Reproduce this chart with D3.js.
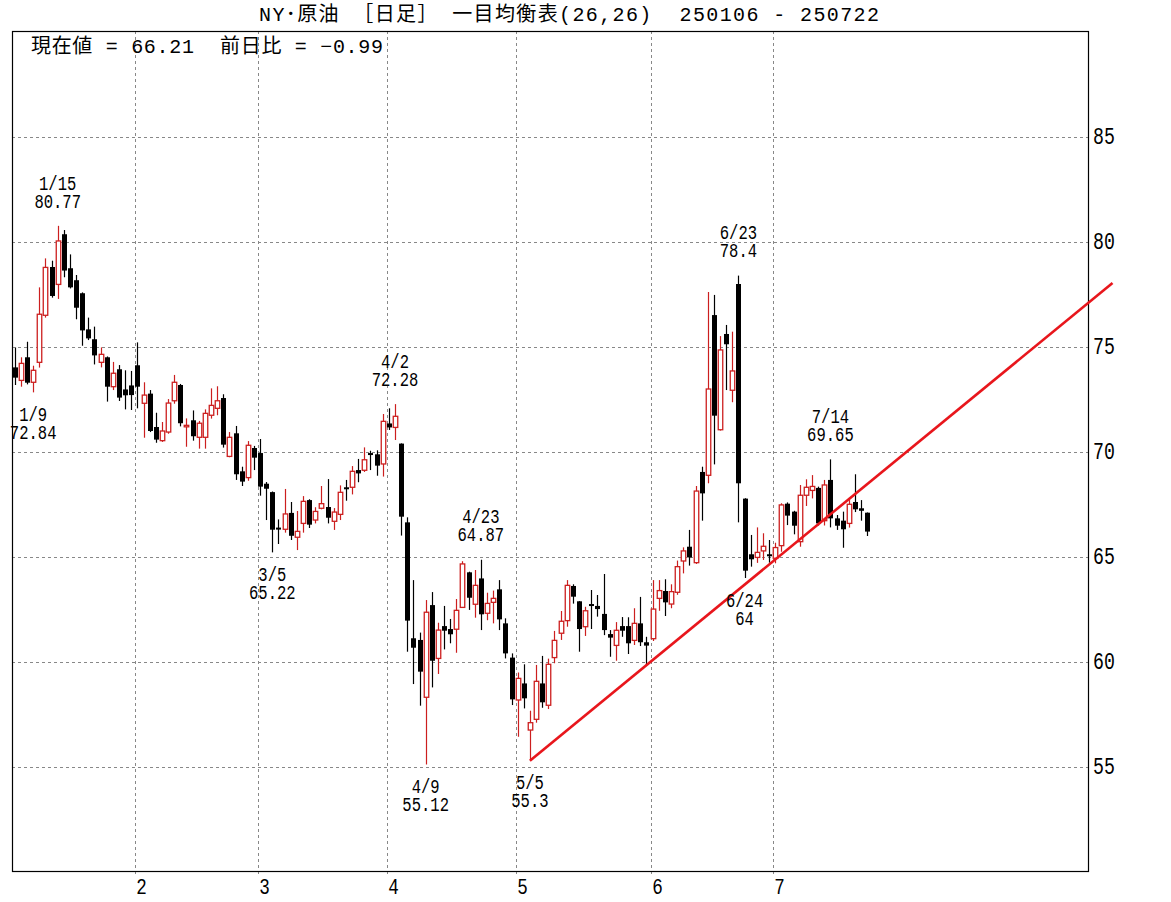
<!DOCTYPE html>
<html><head><meta charset="utf-8">
<script src="https://cdn.jsdelivr.net/npm/d3@7"></script>
<style>
body{margin:0;background:#fff}
text{font-family:'Liberation Mono','Noto Sans CJK JP',monospace;white-space:pre;fill:#000}
</style>
</head><body>
<svg id="c" width="1171" height="902"></svg>
<script>
const titleText = "NY･原油 ［日足］ 一目均衡表(26,26)  250106 - 250722";
const dates = [
"1/6","1/7","1/8","1/9","1/10","1/13","1/14","1/15","1/16","1/17","1/20","1/21","1/22","1/23","1/24","1/27","1/28","1/29","1/30","1/31",
"2/3","2/4","2/5","2/6","2/7","2/10","2/11","2/12","2/13","2/14","2/17","2/18","2/19","2/20","2/21","2/24","2/25","2/26","2/27","2/28",
"3/3","3/4","3/5","3/6","3/7","3/10","3/11","3/12","3/13","3/14","3/17","3/18","3/19","3/20","3/21","3/24","3/25","3/26","3/27","3/28","3/31",
"4/1","4/2","4/3","4/4","4/7","4/8","4/9","4/10","4/11","4/14","4/15","4/16","4/17","4/21","4/22","4/23","4/24","4/25","4/28","4/29","4/30",
"5/1","5/2","5/5","5/6","5/7","5/8","5/9","5/12","5/13","5/14","5/15","5/16","5/19","5/20","5/21","5/22","5/23","5/26","5/27","5/28","5/29","5/30",
"6/2","6/3","6/4","6/5","6/6","6/9","6/10","6/11","6/12","6/13","6/16","6/17","6/18","6/20","6/23","6/24","6/25","6/26","6/27","6/30",
"7/1","7/2","7/3","7/4","7/7","7/8","7/9","7/10","7/11","7/14","7/15","7/16","7/17","7/18","7/21","7/22"];
const opens = [
74.03,73.41,74.51,73.32,74.27,76.51,78.81,77.98,80.37,78.75,78.18,77.56,75.84,75.37,74.27,74.51,73.11,73.94,72.98,73.17,
74.13,72.32,72.78,71.19,70.54,70.95,72.44,73.19,71.21,71.51,70.70,70.70,71.75,72.08,72.57,69.79,70.89,69.08,68.78,70.19,
69.95,68.49,68.09,66.40,66.32,67.10,65.94,66.60,67.71,66.76,67.32,67.38,66.70,67.03,68.32,68.32,69.14,69.13,69.95,69.89,69.43,
71.36,71.17,70.40,66.65,61.13,61.05,58.32,62.71,60.17,61.71,61.57,61.56,62.60,64.27,62.75,63.98,62.32,62.84,63.46,61.84,60.21,
58.19,58.98,56.76,57.27,58.98,57.94,60.21,61.37,61.97,63.62,62.89,61.68,62.76,62.67,62.29,61.33,60.79,61.71,61.71,61.03,61.84,60.94,
61.11,63.03,63.38,62.76,63.32,64.81,65.49,64.73,69.05,68.89,76.52,71.06,75.62,72.94,78.00,67.78,65.13,64.98,65.29,65.13,
64.94,65.54,67.54,67.16,65.73,67.94,68.17,68.29,66.73,68.67,66.84,66.73,66.60,67.62,67.32,67.11];
const highs = [
74.98,74.51,75.25,74.11,77.84,79.22,79.11,80.77,80.57,79.41,78.43,77.60,76.40,75.97,74.98,74.55,74.29,74.14,73.89,73.86,
75.22,73.32,72.95,71.87,71.43,72.52,73.67,73.24,71.60,71.98,71.48,72.03,73.03,73.13,72.75,70.95,71.24,69.30,70.52,70.29,
70.62,68.57,68.12,66.79,68.24,67.62,67.19,67.90,67.75,67.37,68.38,68.71,67.33,68.41,68.67,69.33,69.67,70.22,70.06,70.08,71.81,
72.08,72.28,70.41,66.89,63.90,61.40,62.95,63.33,61.87,62.67,62.05,63.00,64.80,64.30,64.38,64.87,63.30,63.40,63.90,62.08,60.41,
59.50,59.89,57.68,59.86,60.29,60.16,61.48,62.43,63.90,63.70,62.90,62.63,63.43,63.19,64.19,61.52,61.90,62.14,62.13,62.56,63.10,61.20,
63.90,63.90,63.94,63.70,64.83,65.46,66.29,68.38,69.30,77.62,77.48,75.52,76.05,75.73,78.40,67.80,66.05,66.41,66.13,65.81,
65.68,67.56,67.60,67.20,68.43,68.70,68.90,68.35,68.67,69.65,67.00,67.16,67.71,68.94,67.71,67.12];
const lows = [
73.19,73.11,73.22,72.84,74.02,76.40,77.35,77.29,78.32,77.79,76.32,75.06,75.33,74.17,74.03,72.40,72.95,72.43,72.03,72.00,
72.08,70.68,70.95,70.44,70.48,70.87,72.30,71.22,70.25,70.54,70.16,70.16,71.59,71.75,70.21,69.75,68.67,68.38,68.63,69.14,
67.92,66.76,65.22,65.62,66.16,65.81,65.33,66.16,66.38,66.60,67.27,66.60,66.29,66.76,67.68,67.98,68.56,69.05,69.14,68.87,68.83,
71.05,70.57,66.02,60.49,58.95,57.92,55.12,58.79,59.43,60.60,60.89,60.44,62.60,62.48,62.11,61.52,61.99,61.84,61.52,60.17,57.95,
56.44,57.79,55.30,57.11,57.82,57.76,59.94,61.05,61.68,62.78,60.49,61.24,61.57,62.16,61.28,60.25,60.06,61.20,60.38,60.81,60.76,59.86,
61.00,62.44,62.19,62.56,63.20,64.22,64.59,64.67,66.73,68.51,69.41,71.02,72.95,72.37,66.65,64.00,64.54,64.72,64.86,64.73,
64.70,65.25,66.52,66.08,65.49,67.43,67.79,66.50,66.50,66.41,66.29,65.44,66.40,67.14,66.73,66.00];
const closes = [
73.54,74.22,73.30,73.89,76.56,78.79,77.43,80.05,78.64,77.84,76.87,75.79,75.41,74.60,74.65,73.11,73.75,72.59,72.70,72.71,
73.11,72.71,71.00,70.59,71.00,72.33,73.32,71.37,71.27,70.75,71.37,71.84,72.22,72.44,70.35,70.70,68.94,68.59,70.32,69.73,
68.35,68.25,66.30,66.35,67.05,66.01,66.22,67.65,66.54,67.17,67.54,66.87,67.14,68.08,68.25,69.08,68.98,69.63,69.89,69.35,71.46,
71.17,71.70,66.92,61.97,60.68,59.54,62.37,60.06,61.52,61.49,61.32,62.46,64.67,63.06,63.65,62.27,62.79,63.03,62.03,60.41,58.22,
59.22,58.27,57.11,59.08,58.08,59.89,61.03,61.94,63.65,63.11,61.57,62.44,62.68,62.52,61.52,61.16,61.51,61.49,60.89,61.84,60.94,60.78,
62.52,63.40,62.84,63.35,64.54,65.29,64.98,68.14,68.03,73.00,71.73,74.86,75.13,73.86,68.51,64.35,64.89,65.22,65.51,65.06,
65.45,67.48,66.97,66.49,67.94,68.32,68.36,66.60,68.43,66.84,66.49,66.32,67.51,67.27,67.20,66.21];

const priceTicks = [55, 60, 65, 70, 75, 80, 85];
const monthLabels = ["2","3","4","5","6","7"];

const annotDates  = ["1/15","1/9","4/2","3/5","4/9","4/23","5/5","6/23","6/24","7/14"];
const annotValues = ["80.77","72.84","72.28","65.22","55.12","64.87","55.3","78.4","64","69.65"];
const annotSides  = ["high","low","high","low","low","high","low","high","low","high"];

// trend line: [slot index, price]
const trendSlots  = [84, 179];
const trendPrices = [55.3, 78.05];

const svg = d3.select("#c");
const L = 12, R = 1088, T = 31, B = 871;
const x = d3.scaleLinear().domain([-0.45, 175]).range([L, R]);
const y = d3.scaleLinear().domain([50, 90]).range([872, 32]);
const RED = "#cc1f1f";

// narrow tall text helper (bitmap-gothic look)
function narrow(parent, px, py, size, sx, anchor) {
  const g = parent.append("g").attr("transform", `translate(${px},${py}) scale(${sx},1)`);
  return g.append("text").attr("text-anchor", anchor).attr("dominant-baseline", "central")
    .style("font-size", size + "px");
}

// title
svg.append("text").attr("x", 569).attr("y", 15).attr("text-anchor", "middle")
  .attr("dominant-baseline", "central").style("font-size", "20px")
  .attr("textLength", 620).attr("lengthAdjust", "spacing").text(titleText);

// horizontal grid
svg.append("g").selectAll("line").data(priceTicks).join("line")
  .attr("x1", L).attr("x2", R)
  .attr("y1", d => Math.round(y(d)) + 0.5).attr("y2", d => Math.round(y(d)) + 0.5)
  .attr("stroke", "#888").attr("stroke-dasharray", "3,3");

// month grid
const monthIdx = [];
dates.forEach((d, i) => { if (i > 0 && d.split("/")[0] !== dates[i-1].split("/")[0]) monthIdx.push(i); });
const gx = i => Math.round(x(i) - 2) + 0.5;
svg.append("g").selectAll("line").data(monthIdx).join("line")
  .attr("x1", gx).attr("x2", gx).attr("y1", T).attr("y2", B + 6)
  .attr("stroke", "#888").attr("stroke-dasharray", "3,3");
const mg = svg.append("g");
monthIdx.forEach((i, k) => {
  narrow(mg, gx(i) + 6, 888, 22, 0.8, "middle").text(monthLabels[k]);
});

// price labels
const pg = svg.append("g");
priceTicks.forEach(v => {
  narrow(pg, R + 5, y(v), 24, 0.76, "start").text(v);
});

// candles
const data = dates.map((d, i) => ({ i, d, o: opens[i], h: highs[i], l: lows[i], c: closes[i] }));
const cg = svg.append("g");
data.forEach(p => {
  const cx = Math.round(x(p.i)) + 0.5;
  const up = p.c >= p.o;
  const col = up ? RED : "#000";
  cg.append("line").attr("x1", cx).attr("x2", cx).attr("y1", y(p.h)).attr("y2", y(p.l))
    .attr("stroke", col).attr("stroke-width", 1.2);
  const top = y(Math.max(p.o, p.c)), bot = y(Math.min(p.o, p.c));
  if (up) {
    cg.append("rect").attr("x", cx - 2.25).attr("width", 4.5)
      .attr("y", top).attr("height", Math.max(bot - top, 1.5))
      .attr("fill", "#fff").attr("stroke", RED).attr("stroke-width", 1.3);
  } else {
    cg.append("rect").attr("x", cx - 2.5).attr("width", 5)
      .attr("y", top).attr("height", Math.max(bot - top, 2))
      .attr("fill", "#000");
  }
});

// frame
svg.append("rect").attr("x", L + 0.5).attr("y", T + 0.5).attr("width", R - L).attr("height", B - T)
  .attr("fill", "none").attr("stroke", "#000").attr("stroke-width", 1.2);

// trend line
svg.append("line")
  .attr("x1", x(trendSlots[0])).attr("y1", y(trendPrices[0]))
  .attr("x2", x(trendSlots[1])).attr("y2", y(trendPrices[1]))
  .attr("stroke", "#e8161c").attr("stroke-width", 2.6);

// annotations (two lines in one text element)
const ag = svg.append("g");
annotDates.forEach((ds, k) => {
  const i = dates.indexOf(ds);
  const cx = x(i);
  const isHigh = annotSides[k] === "high";
  const cy = isHigh ? y(highs[i]) - 33 : y(lows[i]) + 32;
  const t = narrow(ag, cx, cy, 21, 0.74, "middle");
  t.append("tspan").attr("x", 0).attr("y", -9).attr("dominant-baseline", "central").text(ds);
  t.append("tspan").attr("x", 0).attr("y", 9).attr("dominant-baseline", "central").text(annotValues[k]);
});

// current value text
const last = closes[closes.length - 1], prev = closes[closes.length - 2];
svg.append("text").attr("x", 31).attr("y", 47).attr("dominant-baseline", "central")
  .style("font-size", "20px").attr("textLength", 352).attr("lengthAdjust", "spacing")
  .text("現在値 = " + d3.format(".2f")(last) + "  前日比 = " + d3.format(".2f")(last - prev));
</script>
</body></html>
